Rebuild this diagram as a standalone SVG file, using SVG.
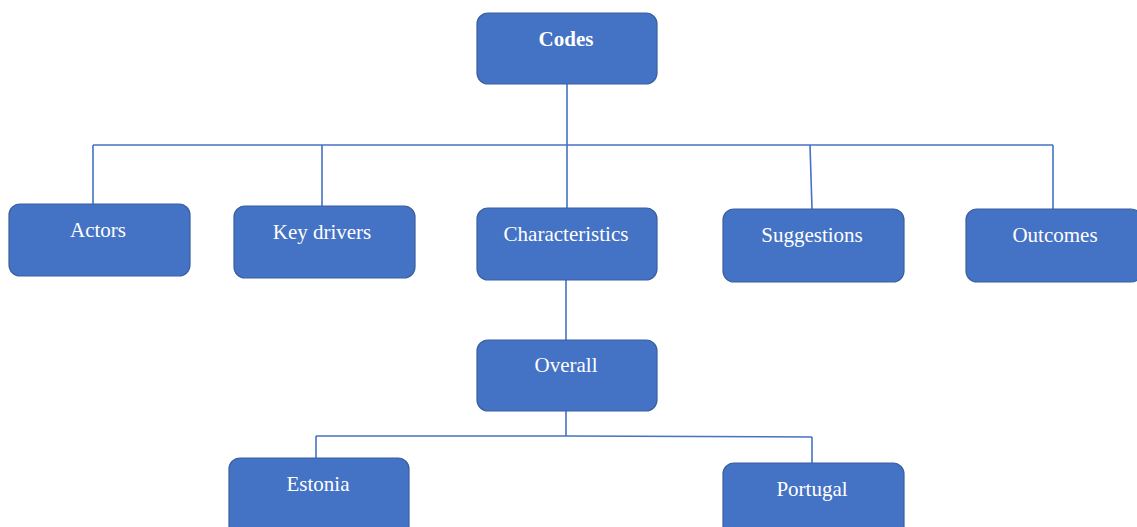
<svg xmlns="http://www.w3.org/2000/svg" width="1137" height="527" viewBox="0 0 1137 527">
<style>
.box{fill:#4472C4;stroke:#3A5F9F;stroke-width:1.2}
.lbl{fill:#FFFFFF;font-family:"Liberation Serif","Times New Roman",serif;font-size:21px;text-anchor:middle}
.b{font-weight:bold}
.conn{stroke:#4472C4;stroke-width:1.6;fill:none}
</style>
<rect width="1137" height="527" fill="#FFFFFF"/>
<g id="connectors">
<path class="conn" d="M567 84V208"/>
<path class="conn" d="M93 145H1053"/>
<path class="conn" d="M93 145V204"/>
<path class="conn" d="M322 145V206"/>
<path class="conn" d="M810 145L812 209"/>
<path class="conn" d="M1053 145V209"/>
<path class="conn" d="M566 280V340"/>
<path class="conn" d="M566 411V436"/>
<path class="conn" d="M316 436H566L812 437"/>
<path class="conn" d="M316 436V458"/>
<path class="conn" d="M812 437V463"/>
</g>
<g id="codes"><rect class="box" x="477" y="13" width="180" height="71" rx="11"/><text class="lbl b" x="566" y="46">Codes</text></g>
<g id="actors"><rect class="box" x="9" y="204" width="181" height="72" rx="11"/><text class="lbl" x="98" y="237">Actors</text></g>
<g id="key-drivers"><rect class="box" x="234" y="206" width="181" height="72" rx="11"/><text class="lbl" x="322" y="239">Key drivers</text></g>
<g id="characteristics"><rect class="box" x="477" y="208" width="180" height="72" rx="11"/><text class="lbl" x="566" y="241">Characteristics</text></g>
<g id="suggestions"><rect class="box" x="723" y="209" width="181" height="73" rx="11"/><text class="lbl" x="812" y="242">Suggestions</text></g>
<g id="outcomes"><rect class="box" x="966" y="209" width="176" height="73" rx="11"/><text class="lbl" x="1055" y="242">Outcomes</text></g>
<g id="overall"><rect class="box" x="477" y="340" width="180" height="71" rx="11"/><text class="lbl" x="566" y="372">Overall</text></g>
<g id="estonia"><rect class="box" x="229" y="458" width="180" height="80" rx="11"/><text class="lbl" x="318" y="491">Estonia</text></g>
<g id="portugal"><rect class="box" x="723" y="463" width="181" height="80" rx="11"/><text class="lbl" x="812" y="496">Portugal</text></g>
</svg>
